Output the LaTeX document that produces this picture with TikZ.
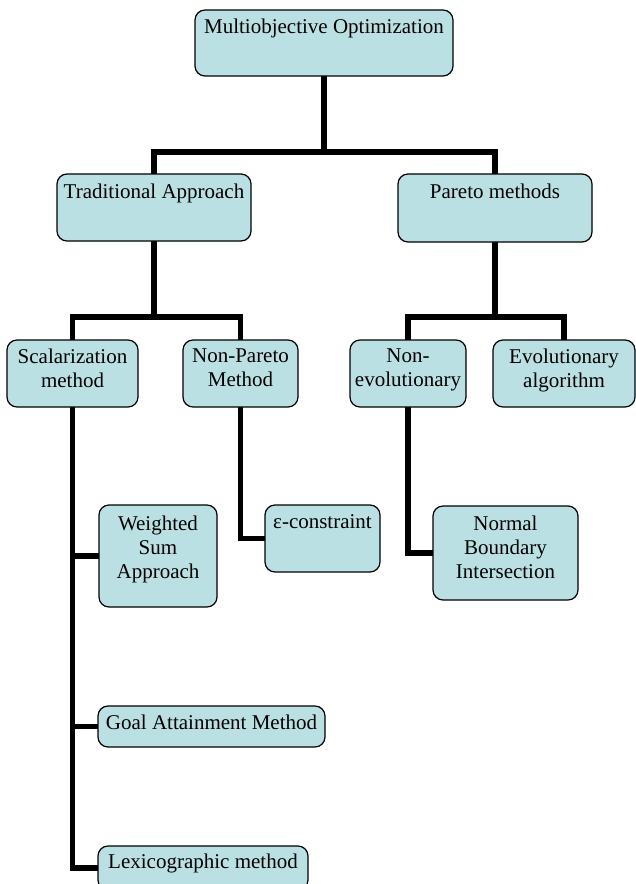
\documentclass[tikz,border=0pt]{standalone}
\usepackage{fontspec}
\setmainfont{Liberation Serif}
\definecolor{boxfill}{RGB}{187,224,227}
\pgfdeclarelayer{bg}
\pgfsetlayers{bg,main}
\begin{document}
\begin{tikzpicture}[x=1pt,y=-1pt,
  box/.style={draw=black, fill=boxfill, rounded corners=10pt, line width=1.2pt, anchor=north west, inner sep=0pt, outer sep=0pt},
  lbl/.style={anchor=north, inner sep=0pt, align=center, font=\fontsize{21}{24}\selectfont},
  conn/.style={line width=5.5pt, line join=miter}]
\useasboundingbox (0,0) rectangle (636,884);
\clip (0,0) rectangle (636,884);

\node[box, minimum width=258pt, minimum height=66pt] (mo) at (195,10) {};
\node[box, minimum width=194pt, minimum height=67pt] (ta) at (57,174) {};
\node[box, minimum width=194pt, minimum height=68pt] (pm) at (398,174) {};
\node[box, minimum width=131pt, minimum height=67pt] (sc) at (7,340) {};
\node[box, minimum width=115pt, minimum height=67pt] (np) at (183,340) {};
\node[box, minimum width=116pt, minimum height=67pt] (ne) at (350,340) {};
\node[box, minimum width=142pt, minimum height=67pt] (ea) at (493,340) {};
\node[box, minimum width=118pt, minimum height=102pt] (ws) at (99,505) {};
\node[box, minimum width=115pt, minimum height=67pt] (ec) at (265,505) {};
\node[box, minimum width=145pt, minimum height=94pt] (nb) at (433,506) {};
\node[box, minimum width=227pt, minimum height=41pt] (ga) at (98,706) {};
\node[box, minimum width=210pt, minimum height=44pt] (lx) at (98,846) {};

\node[lbl] (mot) at ([yshift=-9pt]mo.north) {Multiobjective Optimization};
\node[lbl] (tat) at ([yshift=-10pt]ta.north) {Traditional Approach};
\node[lbl] (pmt) at ([yshift=-10pt]pm.north) {Pareto methods};
\node[lbl] (sct) at ([yshift=-9pt]sc.north) {Scalarization\\method};
\node[lbl] (npt) at ([yshift=-9pt]np.north) {Non-Pareto\\Method};
\node[lbl] (net) at ([yshift=-9pt]ne.north) {Non-\\evolutionary};
\node[lbl] (eat) at ([yshift=-9pt]ea.north) {Evolutionary\\algorithm};
\node[lbl] (wst) at ([yshift=-11pt]ws.north) {Weighted\\Sum\\Approach};
\node[lbl] (ect) at ([yshift=-9pt]ec.north) {ε-constraint};
\node[lbl] (nbt) at ([yshift=-10pt]nb.north) {Normal\\Boundary\\Intersection};
\node[lbl] (gat) at ([yshift=-9pt]ga.north) {Goal Attainment Method};
\node[lbl] (lxt) at ([yshift=-8pt]lx.north) {Lexicographic method};

\coordinate (j1) at (0,152);
\coordinate (j2) at (0,317);

\begin{pgfonlayer}{bg}
\draw[conn] (mo.south) -- (mo.south |- j1);
\draw[conn] (ta.north) -- (ta.north |- j1) -- (pm.north |- j1) -- (pm.north);
\draw[conn] (ta.south) -- (ta.south |- j2);
\draw[conn] (sc.north) -- (sc.north |- j2) -- (np.north |- j2) -- (np.north);
\draw[conn] (pm.south) -- (pm.south |- j2);
\draw[conn] (ne.north) -- (ne.north |- j2) -- (ea.north |- j2) -- (ea.north);
\draw[conn] (sc.south) |- (lx.west);
\draw[conn] (sc.south) |- (ws.west);
\draw[conn] (sc.south) |- (ga.west);
\draw[conn] (np.south) |- (ec.west);
\draw[conn] (ne.south) |- (nb.west);
\end{pgfonlayer}
\end{tikzpicture}
\end{document}
